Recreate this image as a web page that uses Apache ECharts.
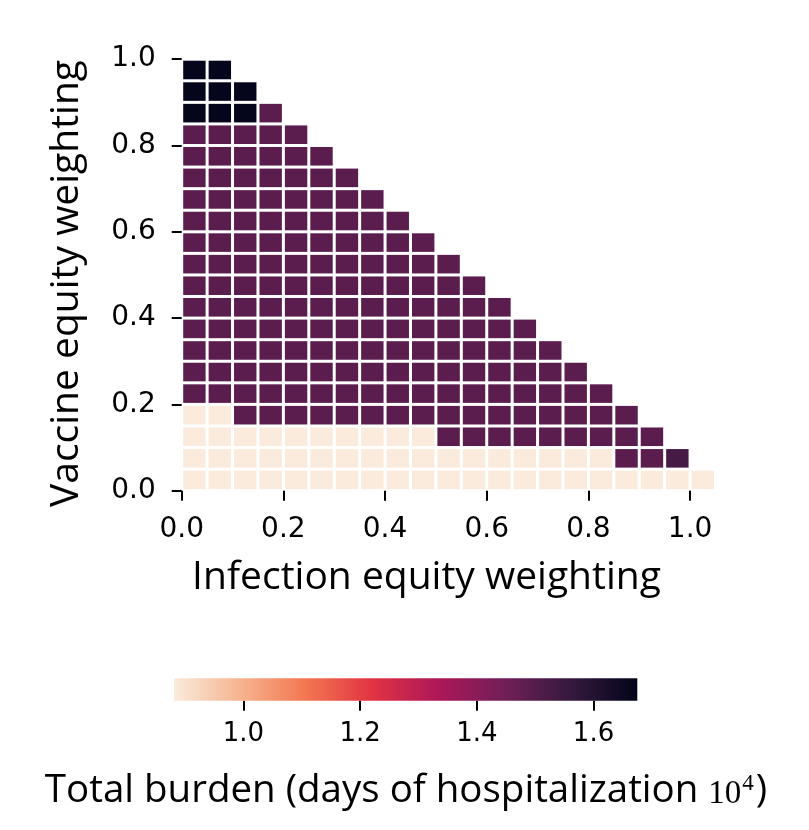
<!DOCTYPE html>
<html><head><meta charset="utf-8">
<script src="https://cdn.jsdelivr.net/npm/echarts@6/dist/echarts.min.js"></script>
<style>html,body{margin:0;padding:0;background:#fff}#c{width:809px;height:830px}</style>
</head><body><div id="c"></div>
<script>
// ---- data ----
const infectionWeights = [0.00,0.05,0.10,0.15,0.20,0.25,0.30,0.35,0.40,0.45,0.50,0.55,0.60,0.65,0.70,0.75,0.80,0.85,0.90,0.95,1.00];
const vaccineWeights   = [0.00,0.05,0.10,0.15,0.20,0.25,0.30,0.35,0.40,0.45,0.50,0.55,0.60,0.65,0.70,0.75,0.80,0.85,0.90,0.95];
// total burden (10^4 days of hospitalization), one row per vaccine weight, indexed by infection weight
const burdenV000 = [0.88,0.88,0.88,0.88,0.88,0.88,0.88,0.88,0.88,0.88,0.88,0.88,0.88,0.88,0.88,0.88,0.88,0.88,0.88,0.88,0.88];
const burdenV005 = [0.88,0.88,0.88,0.88,0.88,0.88,0.88,0.88,0.88,0.88,0.88,0.88,0.88,0.88,0.88,0.88,0.88,1.49,1.49,1.53];
const burdenV010 = [0.88,0.88,0.88,0.88,0.88,0.88,0.88,0.88,0.88,0.88,1.49,1.49,1.49,1.49,1.49,1.49,1.49,1.49,1.49];
const burdenV015 = [0.88,0.88,1.49,1.49,1.49,1.49,1.49,1.49,1.49,1.49,1.49,1.49,1.49,1.49,1.49,1.49,1.49,1.49];
const burdenV020 = [1.49,1.49,1.49,1.49,1.49,1.49,1.49,1.49,1.49,1.49,1.49,1.49,1.49,1.49,1.49,1.49,1.49];
const burdenV025 = [1.49,1.49,1.49,1.49,1.49,1.49,1.49,1.49,1.49,1.49,1.49,1.49,1.49,1.49,1.49,1.49];
const burdenV030 = [1.49,1.49,1.49,1.49,1.49,1.49,1.49,1.49,1.49,1.49,1.49,1.49,1.49,1.49,1.49];
const burdenV035 = [1.49,1.49,1.49,1.49,1.49,1.49,1.49,1.49,1.49,1.49,1.49,1.49,1.49,1.49];
const burdenV040 = [1.49,1.49,1.49,1.49,1.49,1.49,1.49,1.49,1.49,1.49,1.49,1.49,1.49];
const burdenV045 = [1.49,1.49,1.49,1.49,1.49,1.49,1.49,1.49,1.49,1.49,1.49,1.49];
const burdenV050 = [1.49,1.49,1.49,1.49,1.49,1.49,1.49,1.49,1.49,1.49,1.49];
const burdenV055 = [1.49,1.49,1.49,1.49,1.49,1.49,1.49,1.49,1.49,1.49];
const burdenV060 = [1.49,1.49,1.49,1.49,1.49,1.49,1.49,1.49,1.49];
const burdenV065 = [1.49,1.49,1.49,1.49,1.49,1.49,1.49,1.49];
const burdenV070 = [1.49,1.49,1.49,1.49,1.49,1.49,1.49];
const burdenV075 = [1.49,1.49,1.49,1.49,1.49,1.49];
const burdenV080 = [1.49,1.49,1.49,1.49,1.49];
const burdenV085 = [1.67,1.67,1.67,1.49];
const burdenV090 = [1.67,1.67,1.67];
const burdenV095 = [1.67,1.67];
const burdenRows = [burdenV000,burdenV005,burdenV010,burdenV015,burdenV020,burdenV025,burdenV030,burdenV035,burdenV040,burdenV045,
                    burdenV050,burdenV055,burdenV060,burdenV065,burdenV070,burdenV075,burdenV080,burdenV085,burdenV090,burdenV095];
const axisTicks = [0.0,0.2,0.4,0.6,0.8,1.0];
const colorbarTicks = [1.0,1.2,1.4,1.6];
const colorbarRange = [0.881,1.675];

// rocket colormap reversed (light -> dark)
const rocketR = ['#faebdd','#f6b48f','#f37651','#e13342','#ad1759','#701f57','#35193e','#03051a'];

const step = infectionWeights[1] - infectionWeights[0];
const cells = [];
burdenRows.forEach((row, r) => row.forEach((v, c) => cells.push([infectionWeights[c], vaccineWeights[r], v])));

const tickFont = 'DejaVu Sans';
const titleFont = 'Open Sans';

const chart = echarts.init(document.getElementById('c'), null, {renderer: 'canvas'});
chart.setOption({
  animation: false,
  backgroundColor: '#fff',
  grid: [
    {left: 181.7, top: 59.2, width: 533.8, height: 431.5},
    {left: 174, top: 678.3, width: 463.3, height: 22.4}
  ],
  xAxis: [
    {type: 'value', gridIndex: 0, min: 0, max: 1.05, splitLine: {show: false}, axisLine: {show: false},
     axisTick: {show: true, length: 10, lineStyle: {color: '#000', width: 2}, customValues: axisTicks},
     axisLabel: {customValues: axisTicks, formatter: v => v.toFixed(1), color: '#000', fontFamily: tickFont, fontSize: 28, margin: 25}},
    {type: 'value', gridIndex: 1, min: colorbarRange[0], max: colorbarRange[1], splitLine: {show: false}, axisLine: {show: false},
     axisTick: {show: true, length: 10, lineStyle: {color: '#000', width: 2}, customValues: colorbarTicks},
     axisLabel: {customValues: colorbarTicks, formatter: v => v.toFixed(1), color: '#000', fontFamily: tickFont, fontSize: 26, margin: 21}}
  ],
  yAxis: [
    {type: 'value', gridIndex: 0, min: 0, max: 1.0, splitLine: {show: false}, axisLine: {show: false},
     axisTick: {show: true, length: 10, lineStyle: {color: '#000', width: 2}, customValues: axisTicks},
     axisLabel: {customValues: axisTicks, formatter: v => v.toFixed(1), color: '#000', fontFamily: tickFont, fontSize: 28, margin: 26}},
    {type: 'value', gridIndex: 1, min: 0, max: 1, show: false}
  ],
  visualMap: {
    show: false, type: 'continuous', seriesIndex: 0, dimension: 2,
    min: colorbarRange[0], max: colorbarRange[1], inRange: {color: rocketR}
  },
  series: [
    {
      type: 'custom', xAxisIndex: 0, yAxisIndex: 0, data: cells,
      renderItem: function (params, api) {
        const x = api.value(0), y = api.value(1);
        const p0 = api.coord([x, y + step]);
        const p1 = api.coord([x + step, y]);
        const g = 1.5;
        return {type: 'rect',
          shape: {x: p0[0] + g, y: p0[1] + g, width: p1[0] - p0[0] - 2 * g, height: p1[1] - p0[1] - 2 * g},
          style: {fill: api.visual('color')}};
      }
    },
    {
      type: 'custom', xAxisIndex: 1, yAxisIndex: 1, data: [[colorbarRange[0], colorbarRange[1]]],
      renderItem: function (params, api) {
        const p0 = api.coord([api.value(0), 1]);
        const p1 = api.coord([api.value(1), 0]);
        return {type: 'rect',
          shape: {x: p0[0], y: p0[1], width: p1[0] - p0[0], height: p1[1] - p0[1]},
          style: {fill: new echarts.graphic.LinearGradient(0, 0, 1, 0,
            rocketR.map((c, i) => ({offset: i / (rocketR.length - 1), color: c})))}};
      }
    }
  ],
  graphic: [
    {type: 'text', x: 426.5, y: 578, style: {text: 'Infection equity weighting', fill: '#000',
      font: '39px "' + titleFont + '"', textAlign: 'center', textVerticalAlign: 'middle'}},
    {type: 'text', x: 67, y: 283.5, rotation: Math.PI / 2, style: {text: 'Vaccine equity weighting', fill: '#000',
      font: '39px "' + titleFont + '"', textAlign: 'center', textVerticalAlign: 'middle'}},
    {type: 'text', x: 406, y: 788, style: {
      text: '{t|Total burden (days of hospitalization }{m|10}{s|4}{t|)}',
      textAlign: 'center', textVerticalAlign: 'middle', fill: '#000',
      rich: {
        t: {fontFamily: titleFont, fontSize: 38.5, lineHeight: 46, verticalAlign: 'bottom'},
        m: {fontFamily: 'Liberation Serif', fontSize: 33, lineHeight: 46, verticalAlign: 'bottom'},
        s: {fontFamily: 'Liberation Serif', fontSize: 23, lineHeight: 46, verticalAlign: 'bottom', padding: [0, 2, 16, 1]}
      }}}
  ]
});
</script></body></html>
